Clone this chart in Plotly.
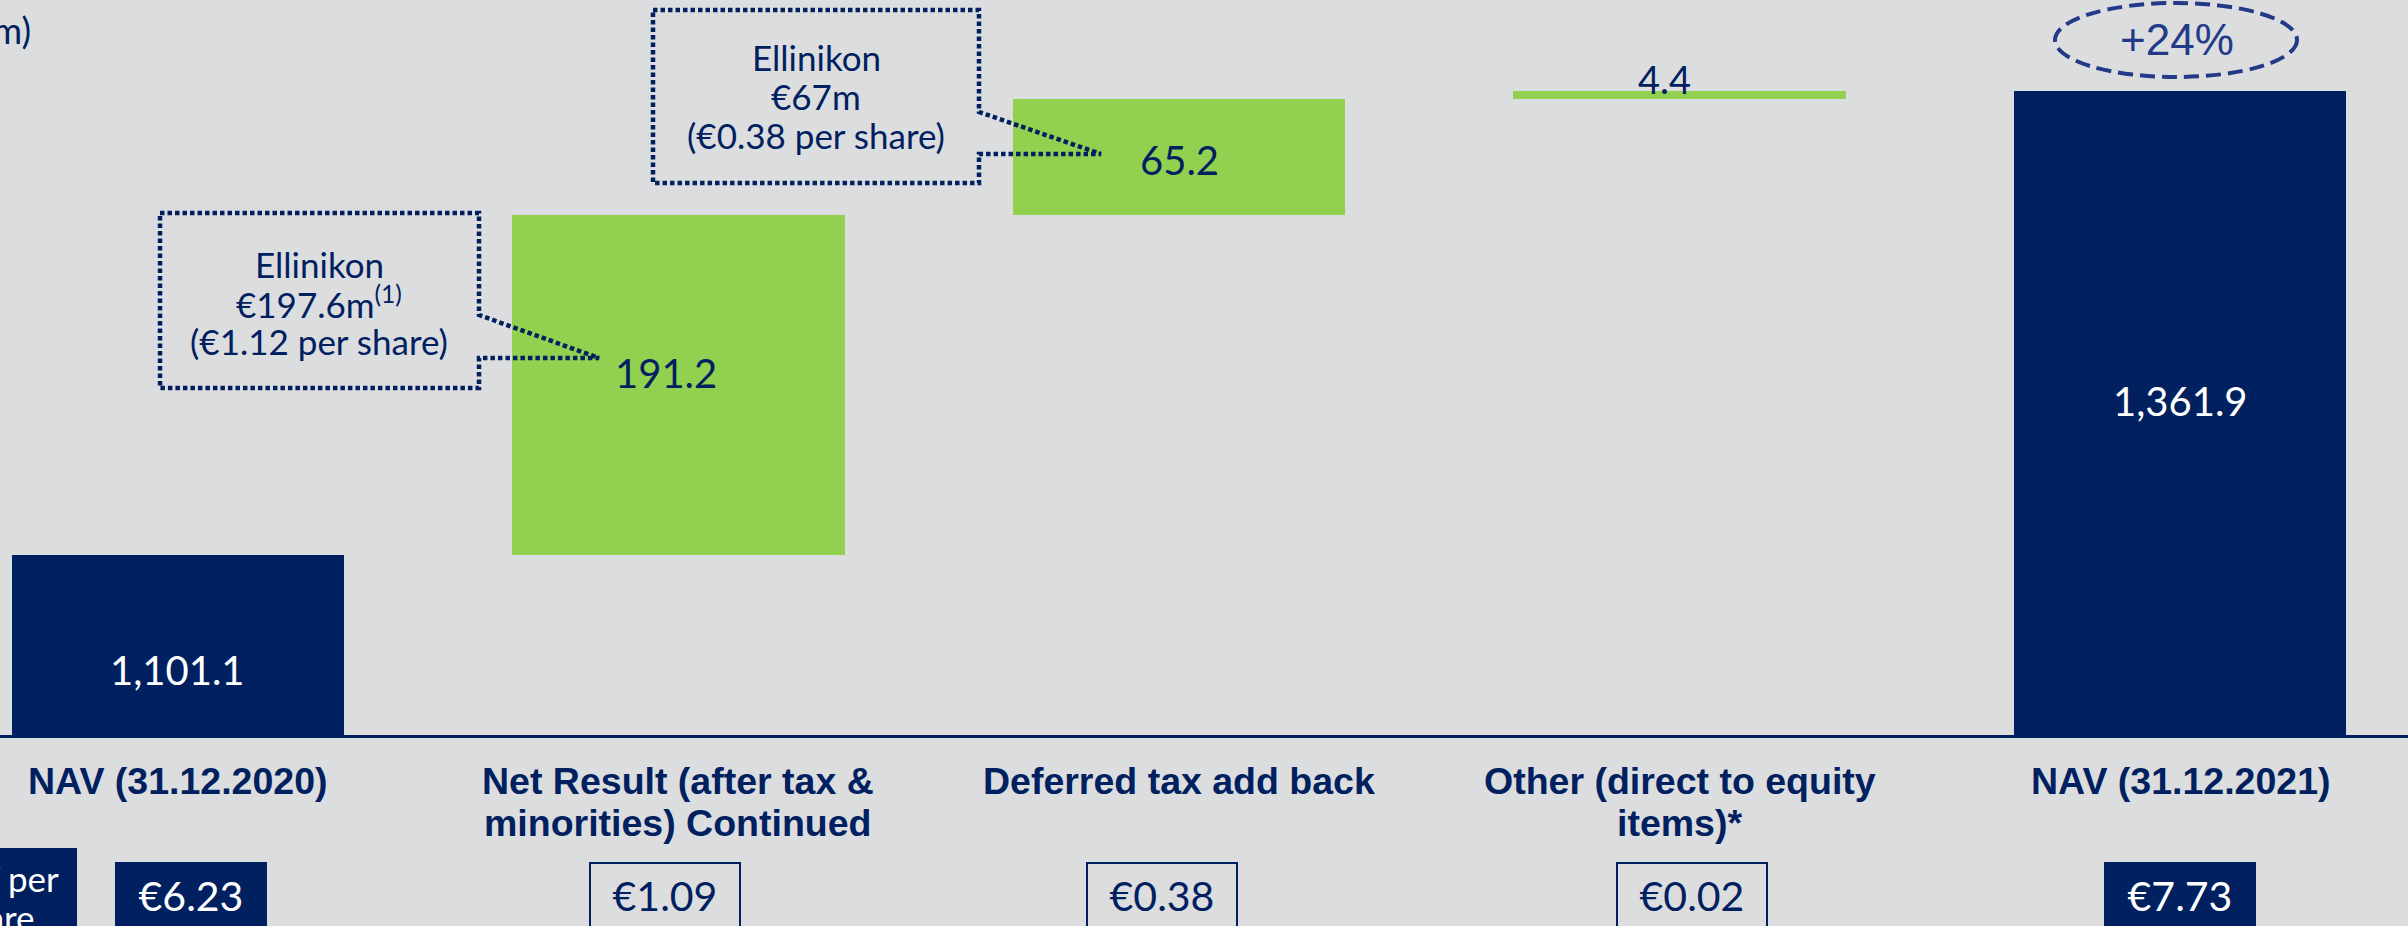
import plotly.graph_objects as go

# ---------------------------------------------------------------------------
# Data
# ---------------------------------------------------------------------------
categories = [
    "NAV (31.12.2020)",
    "Net Result (after tax &<br>minorities) Continued",
    "Deferred tax add back",
    "Other (direct to equity<br>items)*",
    "NAV (31.12.2021)",
]
measures = ["total", "relative", "relative", "relative", "total"]
values = [1101.1, 191.2, 65.2, 4.4, 1361.9]
value_text = ["1,101.1", "191.2", "65.2", "4.4", "1,361.9"]
per_share = ["€6.23", "€1.09", "€0.38", "€0.02", "€7.73"]
per_share_title = ["NAV per", "share"]
growth_text = "+24%"
callout_1 = ["Ellinikon", "€197.6m<sup>(1)</sup>", "(€1.12 per share)"]
callout_2 = ["Ellinikon", "€67m", "(€0.38 per share)"]

# ---------------------------------------------------------------------------
# Style
# ---------------------------------------------------------------------------
W, H = 2408, 926
PLOT_BOTTOM = 735          # pixel row of the category axis
Y_MIN, Y_MAX = 1000, 1412.9
NAVY = "#002060"
GREEN = "#92D050"
BG = "#DCDDDF"
RING = "#223A88"
LABEL_FONT = "Lato, 'Noto Sans', sans-serif"
CAT_FONT = "Arial, 'Liberation Sans', sans-serif"

# hand placement tweaks (pixels / category units), as on the slide
label_dx = [0, -12, 0, -15, 0]
label_dy = [-25, 12, -3, 12, 12]
box_dx = [0.026, -0.026, -0.034, 0.024, 0.0]


def px(x):
    return x / W


def py(y):
    return (PLOT_BOTTOM - y) / PLOT_BOTTOM


# waterfall bases from the running total
bases, tops = [], []
running = 0.0
for m, v in zip(measures, values):
    if m == "total":
        base, top = 0.0, v
    else:
        base, top = running, running + v
    running = top
    bases.append(base)
    tops.append(top)

xs = list(range(len(categories)))
colors = [NAVY if m == "total" else GREEN for m in measures]

fig = go.Figure()
fig.add_trace(go.Bar(
    x=xs, y=[t - b for t, b in zip(tops, bases)], base=bases,
    width=0.665, marker=dict(color=colors, line=dict(width=0)),
    hoverinfo="skip", showlegend=False,
))

annotations = []
px_per_unit = PLOT_BOTTOM / (Y_MAX - Y_MIN)

# value labels: centred in the visible bar, or sitting on a thin one
for i, (x, b, t, txt, m) in enumerate(zip(xs, bases, tops, value_text, measures)):
    lo = max(b, Y_MIN)
    thin = (t - lo) * px_per_unit < 40
    annotations.append(dict(
        x=x, y=t if thin else (lo + t) / 2, text=txt, showarrow=False,
        xanchor="center", yanchor="middle", xshift=label_dx[i], yshift=label_dy[i],
        font=dict(size=38 if thin else 40, color="white" if m == "total" else NAVY,
                  family=LABEL_FONT),
    ))

# category labels, one annotation per line
for x, cat in zip(xs, categories):
    for j, line in enumerate(cat.split("<br>")):
        annotations.append(dict(x=x, xref="x", y=py(781 + 42 * j), yref="paper", text=f"<b>{line}</b>",
                                showarrow=False, xanchor="center", yanchor="middle",
                                font=dict(size=37.5, color=NAVY, family=CAT_FONT)))

# per share boxes
for x, dx, txt, m in zip(xs, box_dx, per_share, measures):
    filled = m == "total"
    annotations.append(dict(x=x + dx, xref="x", y=py(895), yref="paper", text=txt, showarrow=False,
                            xanchor="center", yanchor="middle", width=148, height=62,
                            borderpad=0, borderwidth=2, bordercolor=NAVY,
                            bgcolor=NAVY if filled else "rgba(0,0,0,0)",
                            font=dict(size=41, color="white" if filled else NAVY, family=LABEL_FONT)))

# "NAV per share" tag, cut by the left edge
for j, line in enumerate(per_share_title):
    annotations.append(dict(x=px(-7), xref="paper", y=py(878 + 39 * j), yref="paper", text=line,
                            showarrow=False, xanchor="center", yanchor="middle",
                            font=dict(size=35, color="white", family=LABEL_FONT)))

# unit label, cut by the left edge
annotations.append(dict(x=px(33), xref="paper", y=py(30), yref="paper", text="(€m)",
                        showarrow=False, xanchor="right", yanchor="middle",
                        font=dict(size=36, color=NAVY, family=LABEL_FONT)))

# Ellinikon callouts, one annotation per line
for lines, cx, cy in [(callout_1, 319, 302), (callout_2, 816, 96)]:
    for j, line in enumerate(lines):
        annotations.append(dict(x=px(cx), xref="paper", y=py(cy + 38.5 * (j - 1)), yref="paper",
                                text=line, showarrow=False, xanchor="center", yanchor="middle",
                                font=dict(size=35, color=NAVY, family=LABEL_FONT)))

# growth ring text
annotations.append(dict(x=px(2177), xref="paper", y=py(40), yref="paper", text=growth_text,
                        showarrow=False, xanchor="center", yanchor="middle",
                        font=dict(size=44, color=RING, family=CAT_FONT)))


def callout_path(left, top, right, bottom, notch_top, tip_x, tip_y):
    pts = [(left, top), (right, top), (right, notch_top), (tip_x, tip_y),
           (right, tip_y), (right, bottom), (left, bottom)]
    return "M " + " L ".join(f"{px(a):.5f},{py(b):.5f}" for a, b in pts) + " Z"


dotted = dict(color=NAVY, width=4.5, dash="4.5px,3px")
shapes = [
    dict(type="rect", xref="paper", yref="paper", layer="below",
         x0=px(-91), x1=px(77), y0=py(960), y1=py(848),
         fillcolor=NAVY, line=dict(width=0)),
    dict(type="path", xref="paper", yref="paper", line=dotted,
         path=callout_path(160, 213, 479, 388, 315, 599, 358)),
    dict(type="path", xref="paper", yref="paper", line=dotted,
         path=callout_path(653, 10, 979, 183, 112, 1101, 154)),
    dict(type="circle", xref="paper", yref="paper",
         x0=px(2055), x1=px(2297), y0=py(77), y1=py(3),
         line=dict(color=RING, width=4, dash="15px,7px")),
]

fig.update_layout(
    width=W, height=H,
    margin=dict(l=0, r=0, t=0, b=H - PLOT_BOTTOM, pad=0),
    paper_bgcolor=BG, plot_bgcolor=BG,
    bargap=0, showlegend=False,
    annotations=annotations, shapes=shapes,
)
fig.update_xaxes(range=[-0.3556, 4.4555], showticklabels=False, ticks="", showgrid=False,
                 zeroline=False, showline=True, linecolor=NAVY, linewidth=3)
fig.update_yaxes(range=[Y_MIN, Y_MAX], visible=False, showgrid=False, zeroline=False)

# the page body has a default 8px margin; drop it so the figure sits at the corner
fig.write_html("out.html", config={"displayModeBar": False},
               post_script="document.body.style.margin='0';")
